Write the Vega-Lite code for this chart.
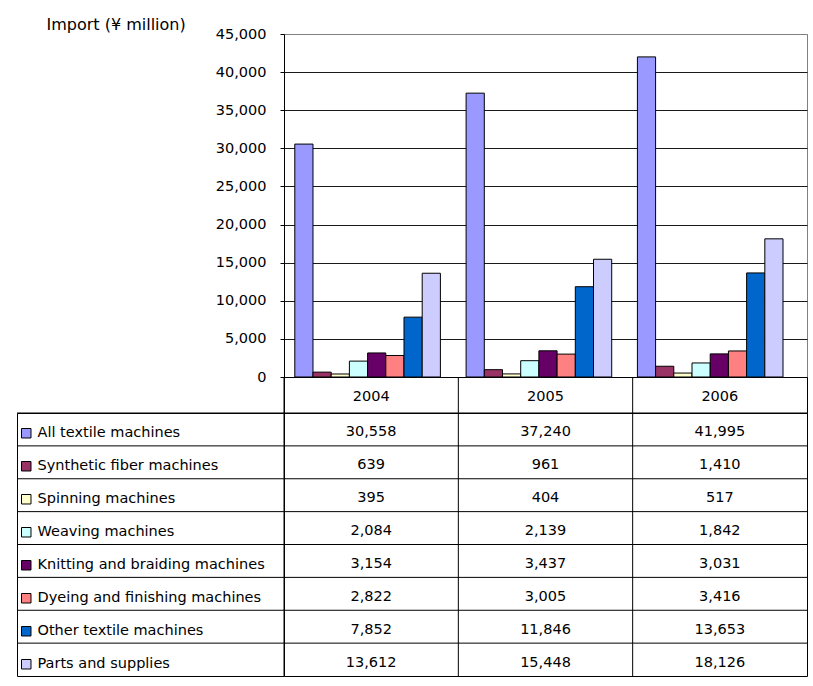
{
  "$schema": "https://vega.github.io/schema/vega-lite/v6.json",
  "background": "white",
  "padding": {"left": 16, "top": 15, "right": 5, "bottom": 5},
  "datasets": {
    "imports": [
      {"year": "2004", "series": "All textile machines", "value": 30558},
      {"year": "2004", "series": "Synthetic fiber machines", "value": 639},
      {"year": "2004", "series": "Spinning machines", "value": 395},
      {"year": "2004", "series": "Weaving machines", "value": 2084},
      {"year": "2004", "series": "Knitting and braiding machines", "value": 3154},
      {"year": "2004", "series": "Dyeing and finishing machines", "value": 2822},
      {"year": "2004", "series": "Other textile machines", "value": 7852},
      {"year": "2004", "series": "Parts and supplies", "value": 13612},
      {"year": "2005", "series": "All textile machines", "value": 37240},
      {"year": "2005", "series": "Synthetic fiber machines", "value": 961},
      {"year": "2005", "series": "Spinning machines", "value": 404},
      {"year": "2005", "series": "Weaving machines", "value": 2139},
      {"year": "2005", "series": "Knitting and braiding machines", "value": 3437},
      {"year": "2005", "series": "Dyeing and finishing machines", "value": 3005},
      {"year": "2005", "series": "Other textile machines", "value": 11846},
      {"year": "2005", "series": "Parts and supplies", "value": 15448},
      {"year": "2006", "series": "All textile machines", "value": 41995},
      {"year": "2006", "series": "Synthetic fiber machines", "value": 1410},
      {"year": "2006", "series": "Spinning machines", "value": 517},
      {"year": "2006", "series": "Weaving machines", "value": 1842},
      {"year": "2006", "series": "Knitting and braiding machines", "value": 3031},
      {"year": "2006", "series": "Dyeing and finishing machines", "value": 3416},
      {"year": "2006", "series": "Other textile machines", "value": 13653},
      {"year": "2006", "series": "Parts and supplies", "value": 18126}
    ]
  },
  "columns": 2,
  "spacing": 0,
  "bounds": "flush",
  "align": "each",
  "concat": [
    {
      "width": 267,
      "height": 343,
      "data": {"values": [{}]},
      "mark": {"type": "text", "text": ""},
      "encoding": {},
      "view": {"stroke": null}
    },
    {
      "width": 523,
      "height": 343,
      "data": {"name": "imports"},
      "mark": {"type": "bar", "stroke": "black", "strokeWidth": 1},
      "encoding": {
        "x": {
          "field": "year",
          "type": "nominal",
          "axis": null,
          "scale": {"paddingInner": 0, "paddingOuter": 0.0265, "align": 0}
        },
        "xOffset": {
          "field": "series",
          "type": "nominal",
          "sort": ["All textile machines", "Synthetic fiber machines", "Spinning machines", "Weaving machines", "Knitting and braiding machines", "Dyeing and finishing machines", "Other textile machines", "Parts and supplies"],
          "scale": {"paddingInner": 0, "paddingOuter": 0.706, "align": 0.42}
        },
        "y": {
          "field": "value",
          "type": "quantitative",
          "scale": {"domain": [0, 45000], "nice": false},
          "axis": {
            "values": [0, 5000, 10000, 15000, 20000, 25000, 30000, 35000, 40000, 45000],
            "format": ",.0f",
            "title": "Import (¥ million)",
            "titleAngle": 0,
            "titleAlign": "left",
            "titleBaseline": "alphabetic",
            "titleX": -238,
            "titleY": -5,
            "titleFontSize": 16,
            "titleFontWeight": "normal",
            "titleColor": "black",
            "labelFontSize": 14.5,
            "labelColor": "black",
            "labelPadding": 14,
            "tickSize": 4,
            "tickColor": "black",
            "domainColor": "black",
            "grid": true,
            "gridColor": {"condition": {"test": "datum.value == 45000", "value": "#808080"}, "value": "#1a1a1a"},
            "gridOpacity": 1
          }
        },
        "color": {
          "field": "series",
          "type": "nominal",
          "scale": {
            "domain": ["All textile machines", "Synthetic fiber machines", "Spinning machines", "Weaving machines", "Knitting and braiding machines", "Dyeing and finishing machines", "Other textile machines", "Parts and supplies"],
            "range": ["#9999FF", "#993366", "#FFFFCC", "#CCFFFF", "#660066", "#FF8080", "#0066CC", "#CCCCFF"]
          },
          "legend": {
            "orient": "none",
            "legendX": 2,
            "legendY": 392,
            "title": null,
            "padding": 0,
            "labelFontSize": 14.5,
            "labelColor": "black",
            "labelOffset": 4,
            "labelLimit": 300,
            "symbolType": "square",
            "symbolSize": 90,
            "symbolStrokeColor": "black",
            "symbolStrokeWidth": 1,
            "symbolOffset": 0,
            "rowPadding": 18
          }
        }
      },
      "view": {"stroke": "#808080"}
    },
    {
      "width": 267,
      "height": 36,
      "data": {"values": [{}]},
      "mark": {"type": "text", "text": ""},
      "encoding": {},
      "view": {"stroke": null}
    },
    {
      "width": 523,
      "height": 36,
      "data": {"name": "imports"},
      "transform": [{"filter": "datum.series == 'All textile machines'"}],
      "layer": [
        {
          "mark": {"type": "text", "fontSize": 14.5, "color": "black", "baseline": "middle", "dy": 2},
          "encoding": {
            "x": {"field": "year", "type": "nominal", "axis": null, "scale": {"paddingInner": 0, "paddingOuter": 0}},
            "text": {"field": "year"}
          }
        },
        {
          "mark": {"type": "rule", "color": "black", "strokeWidth": 1},
          "encoding": {
            "x": {"field": "year", "type": "nominal", "bandPosition": 0}
          }
        }
      ],
      "view": {"stroke": "black"}
    },
    {
      "width": 267,
      "height": 263,
      "data": {"name": "imports"},
      "transform": [{"filter": "datum.year == '2004'"}],
      "mark": {"type": "rule", "color": "black", "strokeWidth": 1},
      "encoding": {
        "y": {
          "field": "series",
          "type": "nominal",
          "sort": ["All textile machines", "Synthetic fiber machines", "Spinning machines", "Weaving machines", "Knitting and braiding machines", "Dyeing and finishing machines", "Other textile machines", "Parts and supplies"],
          "bandPosition": 0,
          "axis": null,
          "scale": {"paddingInner": 0, "paddingOuter": 0}
        }
      },
      "view": {"stroke": "black"}
    },
    {
      "width": 523,
      "height": 263,
      "data": {"name": "imports"},
      "layer": [
        {
          "mark": {"type": "text", "fontSize": 14.5, "color": "black", "baseline": "middle", "dy": 3},
          "encoding": {
            "x": {"field": "year", "type": "nominal", "axis": null, "scale": {"paddingInner": 0, "paddingOuter": 0}},
            "y": {
              "field": "series",
              "type": "nominal",
              "sort": ["All textile machines", "Synthetic fiber machines", "Spinning machines", "Weaving machines", "Knitting and braiding machines", "Dyeing and finishing machines", "Other textile machines", "Parts and supplies"],
              "axis": null,
              "scale": {"paddingInner": 0, "paddingOuter": 0}
            },
            "text": {"field": "value", "type": "quantitative", "format": ",.0f"}
          }
        },
        {
          "transform": [{"filter": "datum.series == 'All textile machines'"}],
          "mark": {"type": "rule", "color": "black", "strokeWidth": 1},
          "encoding": {
            "x": {"field": "year", "type": "nominal", "bandPosition": 0}
          }
        },
        {
          "transform": [{"filter": "datum.year == '2004'"}],
          "mark": {"type": "rule", "color": "black", "strokeWidth": 1},
          "encoding": {
            "y": {
              "field": "series",
              "type": "nominal",
              "sort": ["All textile machines", "Synthetic fiber machines", "Spinning machines", "Weaving machines", "Knitting and braiding machines", "Dyeing and finishing machines", "Other textile machines", "Parts and supplies"],
              "bandPosition": 0
            }
          }
        }
      ],
      "view": {"stroke": "black"}
    }
  ],
  "config": {
    "font": "DejaVu Sans",
    "axis": {"labelFont": "DejaVu Sans", "titleFont": "DejaVu Sans"},
    "legend": {"labelFont": "DejaVu Sans"},
    "text": {"font": "DejaVu Sans"}
  }
}
